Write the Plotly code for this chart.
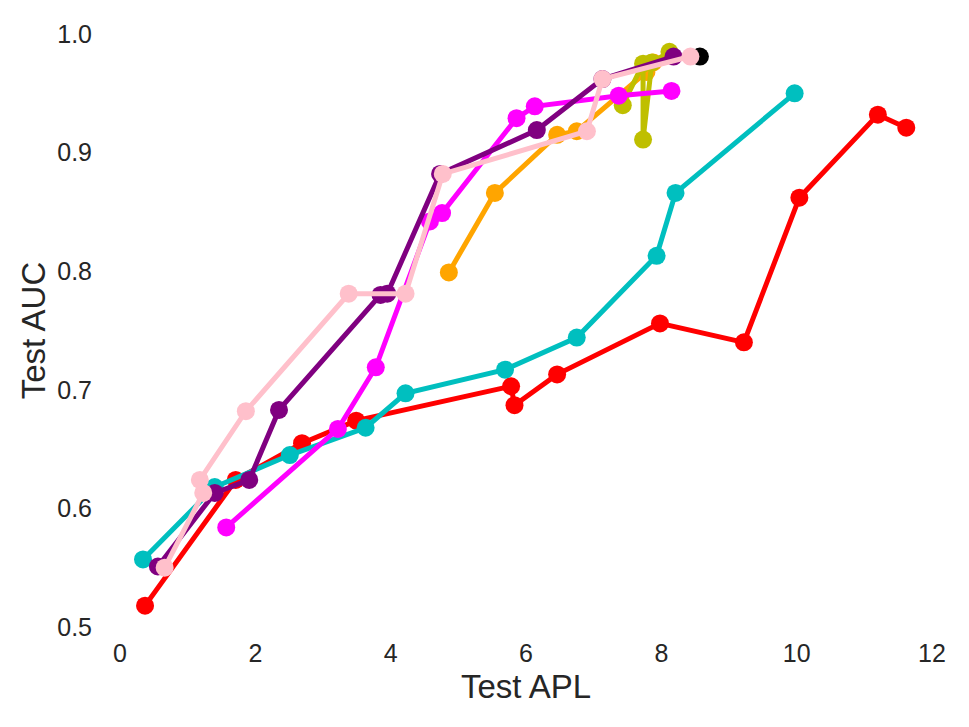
import plotly.graph_objects as go

# Data (Test APL vs Test AUC)
red_x = [0.37, 1.71, 2.69, 3.49, 5.78, 5.83, 6.46, 7.98, 9.22, 10.04, 11.20, 11.62]
red_y = [0.518, 0.624, 0.655, 0.674, 0.703, 0.687, 0.713, 0.756, 0.740, 0.862, 0.932, 0.921]

cyan_x = [0.34, 1.40, 2.51, 3.63, 4.22, 5.69, 6.75, 7.93, 8.21, 9.97]
cyan_y = [0.557, 0.618, 0.645, 0.668, 0.697, 0.717, 0.744, 0.813, 0.866, 0.950]

orange_x = [4.86, 5.54, 6.46, 6.75, 7.78, 7.88]
orange_y = [0.799, 0.866, 0.915, 0.918, 0.968, 0.976]

olive_x = [7.43, 7.73, 7.73, 7.86, 8.12]
olive_y = [0.940, 0.975, 0.911, 0.976, 0.985]

magenta_x = [1.57, 3.22, 3.78, 4.58, 4.76, 5.86, 6.13, 7.37, 8.15]
magenta_y = [0.584, 0.667, 0.719, 0.842, 0.849, 0.929, 0.939, 0.948, 0.952]

purple_x = [0.56, 1.40, 1.91, 2.35, 3.85, 3.95, 4.73, 6.16, 7.13, 8.18]
purple_y = [0.551, 0.613, 0.624, 0.683, 0.780, 0.781, 0.882, 0.919, 0.962, 0.981]

black_x = [8.57]
black_y = [0.981]

pink_x = [0.66, 1.23, 1.18, 1.86, 3.38, 4.22, 4.77, 6.90, 7.13, 8.43]
pink_y = [0.550, 0.613, 0.624, 0.682, 0.781, 0.781, 0.882, 0.918, 0.962, 0.981]

x_ticks = [0, 2, 4, 6, 8, 10, 12]
y_ticks = [0.5, 0.6, 0.7, 0.8, 0.9, 1.0]

series = [
    (red_x, red_y, "#ff0000"),
    (cyan_x, cyan_y, "#00bfbf"),
    (orange_x, orange_y, "#ffa500"),
    (olive_x, olive_y, "#bfbf00"),
    (magenta_x, magenta_y, "#ff00ff"),
    (purple_x, purple_y, "#800080"),
    (black_x, black_y, "#000000"),
    (pink_x, pink_y, "#ffc0cb"),
]

fig = go.Figure()
for xs, ys, col in series:
    fig.add_trace(go.Scatter(
        x=xs, y=ys, mode="lines+markers",
        line=dict(color=col, width=5),
        marker=dict(color=col, size=18),
        showlegend=False, cliponaxis=False,
    ))

font_family = "Liberation Sans, Arial, sans-serif"
fig.update_layout(
    width=969, height=727,
    margin=dict(l=112, r=45, t=24, b=108),
    paper_bgcolor="white", plot_bgcolor="white",
    font=dict(family=font_family, color="#262626"),
    showlegend=False,
)
fig.update_xaxes(
    range=[0, 12], tickvals=x_ticks, ticktext=[str(v) for v in x_ticks],
    showgrid=False, zeroline=False, showline=False,
    ticks="outside", ticklen=4, tickcolor="rgba(0,0,0,0)",
    tickfont=dict(size=25, family=font_family, color="#262626"),
    title=dict(text="Test APL", font=dict(size=33, family=font_family, color="#262626"), standoff=8),
)
fig.update_yaxes(
    range=[0.5, 1.0], tickvals=y_ticks, ticktext=["%.1f" % v for v in y_ticks],
    showgrid=False, zeroline=False, showline=False,
    ticks="outside", ticklen=22, tickcolor="rgba(0,0,0,0)",
    tickfont=dict(size=25, family=font_family, color="#262626"),
    title=dict(text="Test AUC", font=dict(size=33, family=font_family, color="#262626"), standoff=1),
)

fig.write_html("out.html")
